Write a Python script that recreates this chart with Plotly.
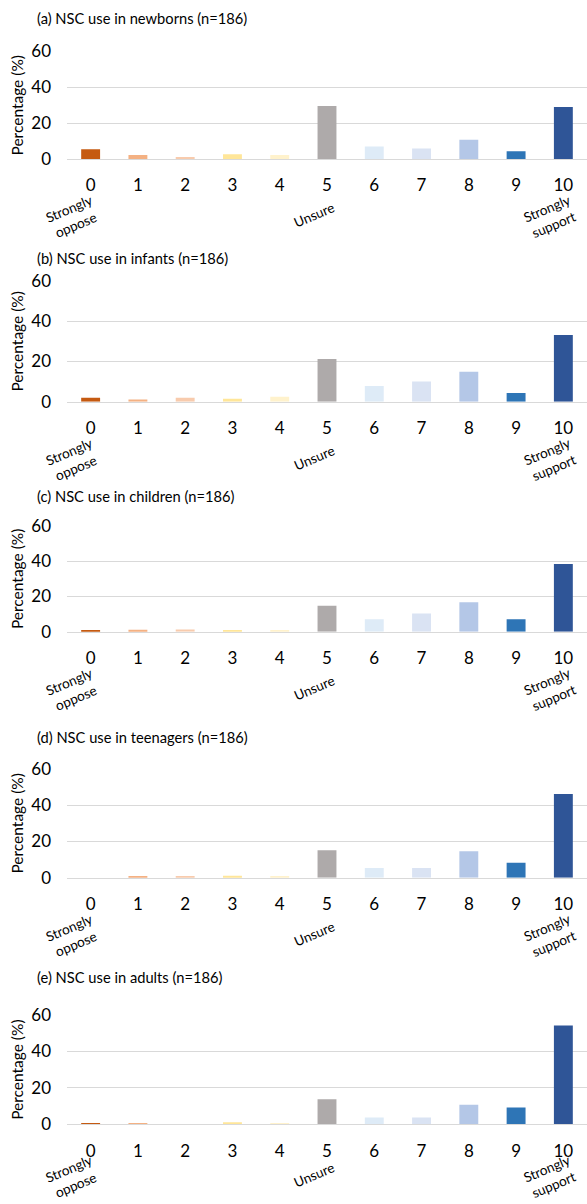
import plotly.graph_objects as go

W, H = 587, 1204

categories = [0, 1, 2, 3, 4, 5, 6, 7, 8, 9, 10]
tick_labels = ["0", "1", "2", "3", "4", "5", "6", "7", "8", "9", "10"]

newborns = [5.4, 2.2, 1.1, 2.7, 2.2, 29.6, 7.0, 5.9, 10.8, 4.3, 29.0]
infants = [2.0, 1.1, 2.0, 1.5, 2.4, 21.2, 7.8, 10.1, 14.9, 4.3, 33.2]
children = [0.5, 1.1, 1.3, 0.8, 0.5, 14.8, 7.0, 10.4, 16.7, 7.0, 38.5]
teenagers = [0.0, 0.5, 0.5, 1.1, 0.5, 15.1, 5.4, 5.4, 14.6, 8.3, 46.2]
adults = [0.5, 0.5, 0.0, 1.1, 0.5, 13.7, 3.8, 3.8, 10.8, 9.2, 54.2]

panel_titles = [
    "(a) NSC use in newborns (n=186)",
    "(b) NSC use in infants (n=186)",
    "(c) NSC use in children (n=186)",
    "(d) NSC use in teenagers (n=186)",
    "(e) NSC use in adults (n=186)",
]
series = [newborns, infants, children, teenagers, adults]

bar_colors = ["#C55A11", "#F4B183", "#F8CBAD", "#FFE699", "#FFF2CC", "#AEAAAA",
              "#DEEBF7", "#DAE3F3", "#B4C7E7", "#2E75B6", "#2F5597"]

scale_labels = ["Strongly<br>oppose", "Unsure", "Strongly<br>support"]
scale_positions = [-0.38, 4.72, 9.72]

# pixel layout of each panel: (top of plot, bottom of plot, title center y, label offset)
panels_px = [
    (51.5, 159.0, 17.5, 58),
    (281.0, 401.7, 257.5, 58),
    (526.0, 631.7, 496.5, 58),
    (769.0, 877.7, 737.5, 58),
    (1015.0, 1124.3, 976.5, 53),
]

FONT = "Lato"
fig = go.Figure()
annotations = []
layout_axes = {}

def py(px):
    return 1 - px / H

x_left = 67 / W

for i, (vals, title, (top, bot, ty, loff)) in enumerate(zip(series, panel_titles, panels_px)):
    n = "" if i == 0 else str(i + 1)
    fig.add_trace(go.Bar(
        x=categories, y=vals, marker=dict(color=bar_colors, line=dict(width=0)),
        width=0.4, xaxis="x" + n, yaxis="y" + n, showlegend=False,
        hovertemplate="%{x}: %{y:.1f}%<extra></extra>",
    ))
    layout_axes["xaxis" + n] = dict(
        domain=[x_left, 1.0], anchor="y" + n, range=[-0.5, 10.5],
        tickmode="array", tickvals=categories, ticktext=tick_labels,
        showgrid=False, showline=True, linecolor="#D9D9D9", linewidth=1,
        ticks="", ticklabelstandoff=11, automargin=False,
        tickfont=dict(family=FONT, size=17, color="#000000"), fixedrange=True,
    )
    layout_axes["yaxis" + n] = dict(
        domain=[py(bot), py(top)], anchor="x" + n, range=[0, 60],
        tickvals=[0, 20, 40, 60], showgrid=True, gridcolor="#D9D9D9", gridwidth=1,
        zeroline=False, showline=False, ticks="", ticklabelstandoff=15,
        automargin=False,
        tickfont=dict(family=FONT, size=17, color="#000000"),
        title=dict(text="Percentage (%)", font=dict(family=FONT, size=15.5, color="#000000"),
                   standoff=3),
        fixedrange=True,
    )
    annotations.append(dict(
        text=title, xref="paper", yref="paper", x=35 / W, y=py(ty),
        xanchor="left", yanchor="middle", showarrow=False,
        font=dict(family=FONT, size=14.7, color="#000000"),
    ))
    offsets_px = [loff, loff - 2, loff]
    for lab, xp, off in zip(scale_labels, scale_positions, offsets_px):
        annotations.append(dict(
            text=lab, xref="x" + n, yref="paper", x=xp, y=py(bot + off),
            xanchor="center", yanchor="middle", showarrow=False, textangle=-23,
            align="center", font=dict(family=FONT, size=13.5, color="#000000"),
        ))

fig.update_layout(
    width=W, height=H, margin=dict(l=0, r=0, t=0, b=0),
    paper_bgcolor="white", plot_bgcolor="white",
    annotations=annotations, bargap=0.6, **layout_axes,
)

fig.write_html(
    "out.html",
    config={"displayModeBar": False},
    post_script="document.body.style.margin='0';document.body.style.overflow='hidden';",
)
